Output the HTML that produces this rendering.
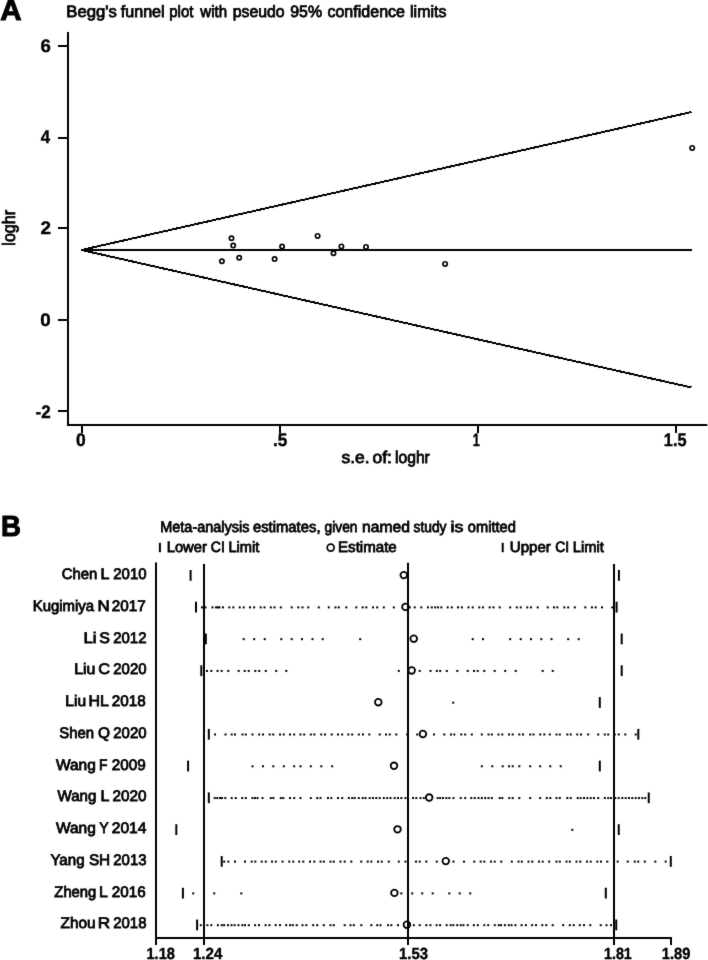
<!DOCTYPE html><html><head><meta charset="utf-8"><style>html,body{margin:0;padding:0;background:#fff;}svg{display:block;will-change:transform;}text{font-family:"Liberation Sans",sans-serif;}</style></head><body><svg width="708" height="960" viewBox="0 0 708 960"><defs><filter id="bl" x="0" y="0" width="708" height="960" filterUnits="userSpaceOnUse" color-interpolation-filters="sRGB"><feConvolveMatrix order="3" kernelMatrix="0.01 0.07 0.01 0.07 0.68 0.07 0.01 0.07 0.01" edgeMode="duplicate"/></filter></defs><g filter="url(#bl)"><rect width="708" height="960" fill="#fff"/><g stroke="#000" fill="none" stroke-linecap="butt"><line x1="68" y1="32" x2="68" y2="426" stroke-width="2"/><line x1="67" y1="425" x2="707.3" y2="425" stroke-width="2"/><line x1="58" y1="46" x2="68" y2="46" stroke-width="2"/><line x1="58" y1="138" x2="68" y2="138" stroke-width="2"/><line x1="58" y1="228" x2="68" y2="228" stroke-width="2"/><line x1="58" y1="320" x2="68" y2="320" stroke-width="2"/><line x1="58" y1="411" x2="68" y2="411" stroke-width="2"/><line x1="82" y1="425" x2="82" y2="433" stroke-width="2"/><line x1="280" y1="425" x2="280" y2="433" stroke-width="2"/><line x1="478" y1="425" x2="478" y2="433" stroke-width="2"/><line x1="676" y1="425" x2="676" y2="433" stroke-width="2"/><line x1="81.5" y1="250" x2="691.5" y2="112" stroke-width="2" shape-rendering="crispEdges"/><line x1="81.5" y1="250" x2="691.5" y2="250" stroke-width="2" shape-rendering="crispEdges"/><line x1="81.5" y1="250" x2="691.5" y2="387.5" stroke-width="2" shape-rendering="crispEdges"/><line x1="156" y1="562.4" x2="156" y2="945" stroke-width="2"/><line x1="204" y1="563.9" x2="204" y2="945" stroke-width="2"/><line x1="408" y1="562.8" x2="408" y2="945" stroke-width="2"/><line x1="614" y1="563.9" x2="614" y2="945" stroke-width="2"/><line x1="155" y1="938" x2="672" y2="938" stroke-width="2"/><line x1="671" y1="938" x2="671" y2="945" stroke-width="2"/></g><g stroke="#000" fill="none" stroke-width="1.7"><circle cx="231.5" cy="238.3" r="2.15"/><circle cx="233.2" cy="245.6" r="2.15"/><circle cx="221.9" cy="261.2" r="2.15"/><circle cx="239.2" cy="257.8" r="2.15"/><circle cx="274.6" cy="259.1" r="2.15"/><circle cx="282.1" cy="246.5" r="2.15"/><circle cx="317.6" cy="235.9" r="2.15"/><circle cx="333.5" cy="253.3" r="2.15"/><circle cx="341.4" cy="246.4" r="2.15"/><circle cx="366" cy="246.9" r="2.15"/><circle cx="445.1" cy="263.9" r="2.15"/><circle cx="692.2" cy="147.9" r="2.15"/></g><g stroke="#000" stroke-width="2"><line x1="190.6" y1="569.95" x2="190.6" y2="580.75"/><line x1="618.9" y1="569.95" x2="618.9" y2="580.75"/><line x1="196" y1="601.73" x2="196" y2="612.53"/><line x1="616.6" y1="601.73" x2="616.6" y2="612.53"/><line x1="205.8" y1="633.51" x2="205.8" y2="644.31"/><line x1="621.7" y1="633.51" x2="621.7" y2="644.31"/><line x1="201.3" y1="665.29" x2="201.3" y2="676.09"/><line x1="621.7" y1="665.29" x2="621.7" y2="676.09"/><line x1="599.8" y1="697.07" x2="599.8" y2="707.87"/><line x1="208.8" y1="728.85" x2="208.8" y2="739.65"/><line x1="638.3" y1="728.85" x2="638.3" y2="739.65"/><line x1="188.1" y1="760.63" x2="188.1" y2="771.43"/><line x1="599.8" y1="760.63" x2="599.8" y2="771.43"/><line x1="208.8" y1="792.41" x2="208.8" y2="803.21"/><line x1="648.75" y1="792.41" x2="648.75" y2="803.21"/><line x1="176.3" y1="824.19" x2="176.3" y2="834.99"/><line x1="618.75" y1="824.19" x2="618.75" y2="834.99"/><line x1="221.7" y1="855.97" x2="221.7" y2="866.77"/><line x1="670.8" y1="855.97" x2="670.8" y2="866.77"/><line x1="182.9" y1="887.75" x2="182.9" y2="898.55"/><line x1="605.8" y1="887.75" x2="605.8" y2="898.55"/><line x1="197.1" y1="919.53" x2="197.1" y2="930.33"/><line x1="616.25" y1="919.53" x2="616.25" y2="930.33"/><line x1="159.9" y1="542.8" x2="159.9" y2="552.2"/><line x1="502.7" y1="542.8" x2="502.7" y2="552.2"/></g><g stroke="#000" fill="none" stroke-width="1.8"><circle cx="403.75" cy="575.10" r="3.3"/><circle cx="405.4" cy="606.88" r="3.3"/><circle cx="413.75" cy="638.66" r="3.3"/><circle cx="411.7" cy="670.44" r="3.3"/><circle cx="378.3" cy="702.22" r="3.3"/><circle cx="422.9" cy="734.00" r="3.3"/><circle cx="394" cy="765.78" r="3.3"/><circle cx="429.2" cy="797.56" r="3.3"/><circle cx="397.5" cy="829.34" r="3.3"/><circle cx="445.8" cy="861.12" r="3.3"/><circle cx="394.4" cy="892.90" r="3.3"/><circle cx="406.9" cy="924.68" r="3.3"/><circle cx="330.7" cy="547.6" r="3.5" stroke-width="1.7"/></g><g fill="#000"><rect x="201.00" y="606.38" width="2.0" height="2.0"/><rect x="204.50" y="606.38" width="2.0" height="2.0"/><rect x="211.50" y="606.38" width="2.0" height="2.0"/><rect x="215.00" y="606.38" width="2.0" height="2.0"/><rect x="217.00" y="606.38" width="2.0" height="2.0"/><rect x="218.50" y="606.38" width="2.0" height="2.0"/><rect x="222.00" y="606.38" width="2.0" height="2.0"/><rect x="228.30" y="606.38" width="2.0" height="2.0"/><rect x="232.30" y="606.38" width="2.0" height="2.0"/><rect x="238.70" y="606.38" width="2.0" height="2.0"/><rect x="242.70" y="606.38" width="2.0" height="2.0"/><rect x="249.00" y="606.38" width="2.0" height="2.0"/><rect x="253.20" y="606.38" width="2.0" height="2.0"/><rect x="259.70" y="606.38" width="2.0" height="2.0"/><rect x="263.50" y="606.38" width="2.0" height="2.0"/><rect x="269.80" y="606.38" width="2.0" height="2.0"/><rect x="273.50" y="606.38" width="2.0" height="2.0"/><rect x="279.80" y="606.38" width="2.0" height="2.0"/><rect x="290.70" y="606.38" width="2.0" height="2.0"/><rect x="297.30" y="606.38" width="2.0" height="2.0"/><rect x="301.50" y="606.38" width="2.0" height="2.0"/><rect x="307.30" y="606.38" width="2.0" height="2.0"/><rect x="317.80" y="606.38" width="2.0" height="2.0"/><rect x="327.80" y="606.38" width="2.0" height="2.0"/><rect x="334.50" y="606.38" width="2.0" height="2.0"/><rect x="337.80" y="606.38" width="2.0" height="2.0"/><rect x="345.30" y="606.38" width="2.0" height="2.0"/><rect x="355.30" y="606.38" width="2.0" height="2.0"/><rect x="361.70" y="606.38" width="2.0" height="2.0"/><rect x="365.30" y="606.38" width="2.0" height="2.0"/><rect x="372.00" y="606.38" width="2.0" height="2.0"/><rect x="376.20" y="606.38" width="2.0" height="2.0"/><rect x="382.80" y="606.38" width="2.0" height="2.0"/><rect x="392.80" y="606.38" width="2.0" height="2.0"/><rect x="408.70" y="606.38" width="2.0" height="2.0"/><rect x="413.70" y="606.38" width="2.0" height="2.0"/><rect x="420.30" y="606.38" width="2.0" height="2.0"/><rect x="427.00" y="606.38" width="2.0" height="2.0"/><rect x="430.80" y="606.38" width="2.0" height="2.0"/><rect x="434.20" y="606.38" width="2.0" height="2.0"/><rect x="437.00" y="606.38" width="2.0" height="2.0"/><rect x="440.30" y="606.38" width="2.0" height="2.0"/><rect x="446.70" y="606.38" width="2.0" height="2.0"/><rect x="450.80" y="606.38" width="2.0" height="2.0"/><rect x="457.00" y="606.38" width="2.0" height="2.0"/><rect x="460.80" y="606.38" width="2.0" height="2.0"/><rect x="467.50" y="606.38" width="2.0" height="2.0"/><rect x="471.70" y="606.38" width="2.0" height="2.0"/><rect x="478.30" y="606.38" width="2.0" height="2.0"/><rect x="482.00" y="606.38" width="2.0" height="2.0"/><rect x="488.70" y="606.38" width="2.0" height="2.0"/><rect x="492.50" y="606.38" width="2.0" height="2.0"/><rect x="498.70" y="606.38" width="2.0" height="2.0"/><rect x="509.20" y="606.38" width="2.0" height="2.0"/><rect x="515.80" y="606.38" width="2.0" height="2.0"/><rect x="519.70" y="606.38" width="2.0" height="2.0"/><rect x="526.30" y="606.38" width="2.0" height="2.0"/><rect x="530.00" y="606.38" width="2.0" height="2.0"/><rect x="536.70" y="606.38" width="2.0" height="2.0"/><rect x="546.70" y="606.38" width="2.0" height="2.0"/><rect x="553.00" y="606.38" width="2.0" height="2.0"/><rect x="556.30" y="606.38" width="2.0" height="2.0"/><rect x="563.30" y="606.38" width="2.0" height="2.0"/><rect x="567.20" y="606.38" width="2.0" height="2.0"/><rect x="573.80" y="606.38" width="2.0" height="2.0"/><rect x="584.30" y="606.38" width="2.0" height="2.0"/><rect x="591.00" y="606.38" width="2.0" height="2.0"/><rect x="594.70" y="606.38" width="2.0" height="2.0"/><rect x="601.00" y="606.38" width="2.0" height="2.0"/><rect x="611.30" y="606.38" width="2.0" height="2.0"/><rect x="242.70" y="638.16" width="2.0" height="2.0"/><rect x="253.20" y="638.16" width="2.0" height="2.0"/><rect x="263.70" y="638.16" width="2.0" height="2.0"/><rect x="280.30" y="638.16" width="2.0" height="2.0"/><rect x="290.70" y="638.16" width="2.0" height="2.0"/><rect x="301.00" y="638.16" width="2.0" height="2.0"/><rect x="311.50" y="638.16" width="2.0" height="2.0"/><rect x="321.70" y="638.16" width="2.0" height="2.0"/><rect x="359.20" y="638.16" width="2.0" height="2.0"/><rect x="471.70" y="638.16" width="2.0" height="2.0"/><rect x="482.00" y="638.16" width="2.0" height="2.0"/><rect x="509.20" y="638.16" width="2.0" height="2.0"/><rect x="519.70" y="638.16" width="2.0" height="2.0"/><rect x="530.00" y="638.16" width="2.0" height="2.0"/><rect x="540.30" y="638.16" width="2.0" height="2.0"/><rect x="550.50" y="638.16" width="2.0" height="2.0"/><rect x="567.20" y="638.16" width="2.0" height="2.0"/><rect x="577.70" y="638.16" width="2.0" height="2.0"/><rect x="206.00" y="669.94" width="2.0" height="2.0"/><rect x="210.30" y="669.94" width="2.0" height="2.0"/><rect x="216.50" y="669.94" width="2.0" height="2.0"/><rect x="220.70" y="669.94" width="2.0" height="2.0"/><rect x="227.30" y="669.94" width="2.0" height="2.0"/><rect x="237.70" y="669.94" width="2.0" height="2.0"/><rect x="243.70" y="669.94" width="2.0" height="2.0"/><rect x="247.70" y="669.94" width="2.0" height="2.0"/><rect x="254.30" y="669.94" width="2.0" height="2.0"/><rect x="258.20" y="669.94" width="2.0" height="2.0"/><rect x="264.80" y="669.94" width="2.0" height="2.0"/><rect x="275.20" y="669.94" width="2.0" height="2.0"/><rect x="285.30" y="669.94" width="2.0" height="2.0"/><rect x="397.80" y="669.94" width="2.0" height="2.0"/><rect x="418.70" y="669.94" width="2.0" height="2.0"/><rect x="429.50" y="669.94" width="2.0" height="2.0"/><rect x="435.80" y="669.94" width="2.0" height="2.0"/><rect x="439.20" y="669.94" width="2.0" height="2.0"/><rect x="445.80" y="669.94" width="2.0" height="2.0"/><rect x="456.30" y="669.94" width="2.0" height="2.0"/><rect x="466.70" y="669.94" width="2.0" height="2.0"/><rect x="473.00" y="669.94" width="2.0" height="2.0"/><rect x="476.70" y="669.94" width="2.0" height="2.0"/><rect x="483.30" y="669.94" width="2.0" height="2.0"/><rect x="493.70" y="669.94" width="2.0" height="2.0"/><rect x="504.20" y="669.94" width="2.0" height="2.0"/><rect x="514.70" y="669.94" width="2.0" height="2.0"/><rect x="541.70" y="669.94" width="2.0" height="2.0"/><rect x="551.70" y="669.94" width="2.0" height="2.0"/><rect x="452.20" y="701.72" width="2.0" height="2.0"/><rect x="214.00" y="733.50" width="2.0" height="2.0"/><rect x="224.50" y="733.50" width="2.0" height="2.0"/><rect x="230.70" y="733.50" width="2.0" height="2.0"/><rect x="234.00" y="733.50" width="2.0" height="2.0"/><rect x="241.50" y="733.50" width="2.0" height="2.0"/><rect x="244.80" y="733.50" width="2.0" height="2.0"/><rect x="251.50" y="733.50" width="2.0" height="2.0"/><rect x="258.20" y="733.50" width="2.0" height="2.0"/><rect x="262.00" y="733.50" width="2.0" height="2.0"/><rect x="268.70" y="733.50" width="2.0" height="2.0"/><rect x="272.30" y="733.50" width="2.0" height="2.0"/><rect x="279.00" y="733.50" width="2.0" height="2.0"/><rect x="282.70" y="733.50" width="2.0" height="2.0"/><rect x="289.00" y="733.50" width="2.0" height="2.0"/><rect x="293.20" y="733.50" width="2.0" height="2.0"/><rect x="299.50" y="733.50" width="2.0" height="2.0"/><rect x="303.20" y="733.50" width="2.0" height="2.0"/><rect x="309.80" y="733.50" width="2.0" height="2.0"/><rect x="313.30" y="733.50" width="2.0" height="2.0"/><rect x="320.30" y="733.50" width="2.0" height="2.0"/><rect x="324.00" y="733.50" width="2.0" height="2.0"/><rect x="330.70" y="733.50" width="2.0" height="2.0"/><rect x="337.00" y="733.50" width="2.0" height="2.0"/><rect x="341.20" y="733.50" width="2.0" height="2.0"/><rect x="347.30" y="733.50" width="2.0" height="2.0"/><rect x="351.20" y="733.50" width="2.0" height="2.0"/><rect x="357.80" y="733.50" width="2.0" height="2.0"/><rect x="362.00" y="733.50" width="2.0" height="2.0"/><rect x="368.30" y="733.50" width="2.0" height="2.0"/><rect x="378.70" y="733.50" width="2.0" height="2.0"/><rect x="385.00" y="733.50" width="2.0" height="2.0"/><rect x="388.70" y="733.50" width="2.0" height="2.0"/><rect x="395.30" y="733.50" width="2.0" height="2.0"/><rect x="406.20" y="733.50" width="2.0" height="2.0"/><rect x="416.20" y="733.50" width="2.0" height="2.0"/><rect x="433.00" y="733.50" width="2.0" height="2.0"/><rect x="443.30" y="733.50" width="2.0" height="2.0"/><rect x="450.00" y="733.50" width="2.0" height="2.0"/><rect x="453.30" y="733.50" width="2.0" height="2.0"/><rect x="460.30" y="733.50" width="2.0" height="2.0"/><rect x="464.20" y="733.50" width="2.0" height="2.0"/><rect x="470.80" y="733.50" width="2.0" height="2.0"/><rect x="480.80" y="733.50" width="2.0" height="2.0"/><rect x="487.50" y="733.50" width="2.0" height="2.0"/><rect x="490.80" y="733.50" width="2.0" height="2.0"/><rect x="497.50" y="733.50" width="2.0" height="2.0"/><rect x="501.30" y="733.50" width="2.0" height="2.0"/><rect x="508.00" y="733.50" width="2.0" height="2.0"/><rect x="511.70" y="733.50" width="2.0" height="2.0"/><rect x="518.30" y="733.50" width="2.0" height="2.0"/><rect x="522.00" y="733.50" width="2.0" height="2.0"/><rect x="529.20" y="733.50" width="2.0" height="2.0"/><rect x="532.50" y="733.50" width="2.0" height="2.0"/><rect x="539.20" y="733.50" width="2.0" height="2.0"/><rect x="543.30" y="733.50" width="2.0" height="2.0"/><rect x="548.80" y="733.50" width="2.0" height="2.0"/><rect x="555.50" y="733.50" width="2.0" height="2.0"/><rect x="558.80" y="733.50" width="2.0" height="2.0"/><rect x="566.30" y="733.50" width="2.0" height="2.0"/><rect x="569.70" y="733.50" width="2.0" height="2.0"/><rect x="576.30" y="733.50" width="2.0" height="2.0"/><rect x="580.00" y="733.50" width="2.0" height="2.0"/><rect x="587.20" y="733.50" width="2.0" height="2.0"/><rect x="597.20" y="733.50" width="2.0" height="2.0"/><rect x="603.80" y="733.50" width="2.0" height="2.0"/><rect x="607.20" y="733.50" width="2.0" height="2.0"/><rect x="613.80" y="733.50" width="2.0" height="2.0"/><rect x="617.70" y="733.50" width="2.0" height="2.0"/><rect x="624.30" y="733.50" width="2.0" height="2.0"/><rect x="634.70" y="733.50" width="2.0" height="2.0"/><rect x="251.50" y="765.28" width="2.0" height="2.0"/><rect x="262.00" y="765.28" width="2.0" height="2.0"/><rect x="272.30" y="765.28" width="2.0" height="2.0"/><rect x="282.80" y="765.28" width="2.0" height="2.0"/><rect x="293.20" y="765.28" width="2.0" height="2.0"/><rect x="299.50" y="765.28" width="2.0" height="2.0"/><rect x="309.80" y="765.28" width="2.0" height="2.0"/><rect x="320.30" y="765.28" width="2.0" height="2.0"/><rect x="331.20" y="765.28" width="2.0" height="2.0"/><rect x="480.80" y="765.28" width="2.0" height="2.0"/><rect x="491.30" y="765.28" width="2.0" height="2.0"/><rect x="501.70" y="765.28" width="2.0" height="2.0"/><rect x="508.00" y="765.28" width="2.0" height="2.0"/><rect x="511.70" y="765.28" width="2.0" height="2.0"/><rect x="518.30" y="765.28" width="2.0" height="2.0"/><rect x="529.20" y="765.28" width="2.0" height="2.0"/><rect x="539.20" y="765.28" width="2.0" height="2.0"/><rect x="549.30" y="765.28" width="2.0" height="2.0"/><rect x="559.70" y="765.28" width="2.0" height="2.0"/><rect x="213.70" y="797.06" width="2.0" height="2.0"/><rect x="216.20" y="797.06" width="2.0" height="2.0"/><rect x="219.00" y="797.06" width="2.0" height="2.0"/><rect x="221.00" y="797.06" width="2.0" height="2.0"/><rect x="224.30" y="797.06" width="2.0" height="2.0"/><rect x="230.70" y="797.06" width="2.0" height="2.0"/><rect x="234.80" y="797.06" width="2.0" height="2.0"/><rect x="241.20" y="797.06" width="2.0" height="2.0"/><rect x="244.80" y="797.06" width="2.0" height="2.0"/><rect x="251.50" y="797.06" width="2.0" height="2.0"/><rect x="254.00" y="797.06" width="2.0" height="2.0"/><rect x="256.50" y="797.06" width="2.0" height="2.0"/><rect x="261.50" y="797.06" width="2.0" height="2.0"/><rect x="269.80" y="797.06" width="2.0" height="2.0"/><rect x="272.30" y="797.06" width="2.0" height="2.0"/><rect x="279.80" y="797.06" width="2.0" height="2.0"/><rect x="282.30" y="797.06" width="2.0" height="2.0"/><rect x="289.00" y="797.06" width="2.0" height="2.0"/><rect x="293.20" y="797.06" width="2.0" height="2.0"/><rect x="299.50" y="797.06" width="2.0" height="2.0"/><rect x="309.80" y="797.06" width="2.0" height="2.0"/><rect x="316.20" y="797.06" width="2.0" height="2.0"/><rect x="319.50" y="797.06" width="2.0" height="2.0"/><rect x="327.00" y="797.06" width="2.0" height="2.0"/><rect x="330.30" y="797.06" width="2.0" height="2.0"/><rect x="337.00" y="797.06" width="2.0" height="2.0"/><rect x="341.20" y="797.06" width="2.0" height="2.0"/><rect x="347.80" y="797.06" width="2.0" height="2.0"/><rect x="351.20" y="797.06" width="2.0" height="2.0"/><rect x="353.70" y="797.06" width="2.0" height="2.0"/><rect x="357.80" y="797.06" width="2.0" height="2.0"/><rect x="361.70" y="797.06" width="2.0" height="2.0"/><rect x="364.50" y="797.06" width="2.0" height="2.0"/><rect x="368.70" y="797.06" width="2.0" height="2.0"/><rect x="372.00" y="797.06" width="2.0" height="2.0"/><rect x="375.30" y="797.06" width="2.0" height="2.0"/><rect x="378.70" y="797.06" width="2.0" height="2.0"/><rect x="382.80" y="797.06" width="2.0" height="2.0"/><rect x="386.20" y="797.06" width="2.0" height="2.0"/><rect x="389.50" y="797.06" width="2.0" height="2.0"/><rect x="393.70" y="797.06" width="2.0" height="2.0"/><rect x="397.00" y="797.06" width="2.0" height="2.0"/><rect x="400.30" y="797.06" width="2.0" height="2.0"/><rect x="404.50" y="797.06" width="2.0" height="2.0"/><rect x="412.00" y="797.06" width="2.0" height="2.0"/><rect x="415.30" y="797.06" width="2.0" height="2.0"/><rect x="419.50" y="797.06" width="2.0" height="2.0"/><rect x="422.80" y="797.06" width="2.0" height="2.0"/><rect x="436.70" y="797.06" width="2.0" height="2.0"/><rect x="439.20" y="797.06" width="2.0" height="2.0"/><rect x="442.00" y="797.06" width="2.0" height="2.0"/><rect x="445.30" y="797.06" width="2.0" height="2.0"/><rect x="448.30" y="797.06" width="2.0" height="2.0"/><rect x="452.50" y="797.06" width="2.0" height="2.0"/><rect x="459.70" y="797.06" width="2.0" height="2.0"/><rect x="464.20" y="797.06" width="2.0" height="2.0"/><rect x="470.30" y="797.06" width="2.0" height="2.0"/><rect x="473.70" y="797.06" width="2.0" height="2.0"/><rect x="477.50" y="797.06" width="2.0" height="2.0"/><rect x="480.80" y="797.06" width="2.0" height="2.0"/><rect x="484.20" y="797.06" width="2.0" height="2.0"/><rect x="487.50" y="797.06" width="2.0" height="2.0"/><rect x="490.80" y="797.06" width="2.0" height="2.0"/><rect x="498.70" y="797.06" width="2.0" height="2.0"/><rect x="501.30" y="797.06" width="2.0" height="2.0"/><rect x="508.30" y="797.06" width="2.0" height="2.0"/><rect x="511.70" y="797.06" width="2.0" height="2.0"/><rect x="518.30" y="797.06" width="2.0" height="2.0"/><rect x="529.20" y="797.06" width="2.0" height="2.0"/><rect x="539.20" y="797.06" width="2.0" height="2.0"/><rect x="545.80" y="797.06" width="2.0" height="2.0"/><rect x="549.30" y="797.06" width="2.0" height="2.0"/><rect x="555.50" y="797.06" width="2.0" height="2.0"/><rect x="558.80" y="797.06" width="2.0" height="2.0"/><rect x="566.30" y="797.06" width="2.0" height="2.0"/><rect x="569.70" y="797.06" width="2.0" height="2.0"/><rect x="576.70" y="797.06" width="2.0" height="2.0"/><rect x="579.70" y="797.06" width="2.0" height="2.0"/><rect x="583.00" y="797.06" width="2.0" height="2.0"/><rect x="586.30" y="797.06" width="2.0" height="2.0"/><rect x="589.70" y="797.06" width="2.0" height="2.0"/><rect x="593.00" y="797.06" width="2.0" height="2.0"/><rect x="597.20" y="797.06" width="2.0" height="2.0"/><rect x="603.80" y="797.06" width="2.0" height="2.0"/><rect x="607.20" y="797.06" width="2.0" height="2.0"/><rect x="610.00" y="797.06" width="2.0" height="2.0"/><rect x="614.30" y="797.06" width="2.0" height="2.0"/><rect x="617.70" y="797.06" width="2.0" height="2.0"/><rect x="621.30" y="797.06" width="2.0" height="2.0"/><rect x="624.70" y="797.06" width="2.0" height="2.0"/><rect x="628.00" y="797.06" width="2.0" height="2.0"/><rect x="631.30" y="797.06" width="2.0" height="2.0"/><rect x="634.70" y="797.06" width="2.0" height="2.0"/><rect x="638.00" y="797.06" width="2.0" height="2.0"/><rect x="641.30" y="797.06" width="2.0" height="2.0"/><rect x="644.30" y="797.06" width="2.0" height="2.0"/><rect x="571.30" y="828.84" width="2.0" height="2.0"/><rect x="223.20" y="860.62" width="2.0" height="2.0"/><rect x="227.30" y="860.62" width="2.0" height="2.0"/><rect x="234.00" y="860.62" width="2.0" height="2.0"/><rect x="244.00" y="860.62" width="2.0" height="2.0"/><rect x="250.70" y="860.62" width="2.0" height="2.0"/><rect x="254.30" y="860.62" width="2.0" height="2.0"/><rect x="260.70" y="860.62" width="2.0" height="2.0"/><rect x="264.80" y="860.62" width="2.0" height="2.0"/><rect x="271.00" y="860.62" width="2.0" height="2.0"/><rect x="274.80" y="860.62" width="2.0" height="2.0"/><rect x="281.50" y="860.62" width="2.0" height="2.0"/><rect x="288.20" y="860.62" width="2.0" height="2.0"/><rect x="292.30" y="860.62" width="2.0" height="2.0"/><rect x="298.20" y="860.62" width="2.0" height="2.0"/><rect x="302.30" y="860.62" width="2.0" height="2.0"/><rect x="309.00" y="860.62" width="2.0" height="2.0"/><rect x="313.30" y="860.62" width="2.0" height="2.0"/><rect x="319.50" y="860.62" width="2.0" height="2.0"/><rect x="322.80" y="860.62" width="2.0" height="2.0"/><rect x="329.50" y="860.62" width="2.0" height="2.0"/><rect x="332.80" y="860.62" width="2.0" height="2.0"/><rect x="339.50" y="860.62" width="2.0" height="2.0"/><rect x="343.70" y="860.62" width="2.0" height="2.0"/><rect x="350.30" y="860.62" width="2.0" height="2.0"/><rect x="360.30" y="860.62" width="2.0" height="2.0"/><rect x="366.70" y="860.62" width="2.0" height="2.0"/><rect x="370.30" y="860.62" width="2.0" height="2.0"/><rect x="377.00" y="860.62" width="2.0" height="2.0"/><rect x="380.70" y="860.62" width="2.0" height="2.0"/><rect x="387.80" y="860.62" width="2.0" height="2.0"/><rect x="397.80" y="860.62" width="2.0" height="2.0"/><rect x="404.50" y="860.62" width="2.0" height="2.0"/><rect x="415.00" y="860.62" width="2.0" height="2.0"/><rect x="418.70" y="860.62" width="2.0" height="2.0"/><rect x="425.30" y="860.62" width="2.0" height="2.0"/><rect x="435.80" y="860.62" width="2.0" height="2.0"/><rect x="452.50" y="860.62" width="2.0" height="2.0"/><rect x="463.00" y="860.62" width="2.0" height="2.0"/><rect x="473.30" y="860.62" width="2.0" height="2.0"/><rect x="479.70" y="860.62" width="2.0" height="2.0"/><rect x="483.30" y="860.62" width="2.0" height="2.0"/><rect x="490.00" y="860.62" width="2.0" height="2.0"/><rect x="493.70" y="860.62" width="2.0" height="2.0"/><rect x="500.30" y="860.62" width="2.0" height="2.0"/><rect x="510.80" y="860.62" width="2.0" height="2.0"/><rect x="517.50" y="860.62" width="2.0" height="2.0"/><rect x="520.80" y="860.62" width="2.0" height="2.0"/><rect x="527.50" y="860.62" width="2.0" height="2.0"/><rect x="531.30" y="860.62" width="2.0" height="2.0"/><rect x="538.00" y="860.62" width="2.0" height="2.0"/><rect x="541.70" y="860.62" width="2.0" height="2.0"/><rect x="548.20" y="860.62" width="2.0" height="2.0"/><rect x="555.50" y="860.62" width="2.0" height="2.0"/><rect x="558.80" y="860.62" width="2.0" height="2.0"/><rect x="565.50" y="860.62" width="2.0" height="2.0"/><rect x="568.80" y="860.62" width="2.0" height="2.0"/><rect x="575.50" y="860.62" width="2.0" height="2.0"/><rect x="579.30" y="860.62" width="2.0" height="2.0"/><rect x="586.00" y="860.62" width="2.0" height="2.0"/><rect x="589.70" y="860.62" width="2.0" height="2.0"/><rect x="596.30" y="860.62" width="2.0" height="2.0"/><rect x="600.00" y="860.62" width="2.0" height="2.0"/><rect x="606.30" y="860.62" width="2.0" height="2.0"/><rect x="616.70" y="860.62" width="2.0" height="2.0"/><rect x="626.70" y="860.62" width="2.0" height="2.0"/><rect x="633.80" y="860.62" width="2.0" height="2.0"/><rect x="637.20" y="860.62" width="2.0" height="2.0"/><rect x="643.80" y="860.62" width="2.0" height="2.0"/><rect x="654.30" y="860.62" width="2.0" height="2.0"/><rect x="664.70" y="860.62" width="2.0" height="2.0"/><rect x="192.20" y="892.40" width="2.0" height="2.0"/><rect x="213.20" y="892.40" width="2.0" height="2.0"/><rect x="240.30" y="892.40" width="2.0" height="2.0"/><rect x="400.30" y="892.40" width="2.0" height="2.0"/><rect x="411.20" y="892.40" width="2.0" height="2.0"/><rect x="421.20" y="892.40" width="2.0" height="2.0"/><rect x="431.70" y="892.40" width="2.0" height="2.0"/><rect x="448.30" y="892.40" width="2.0" height="2.0"/><rect x="458.70" y="892.40" width="2.0" height="2.0"/><rect x="469.20" y="892.40" width="2.0" height="2.0"/><rect x="199.80" y="924.18" width="2.0" height="2.0"/><rect x="206.40" y="924.18" width="2.0" height="2.0"/><rect x="210.30" y="924.18" width="2.0" height="2.0"/><rect x="216.90" y="924.18" width="2.0" height="2.0"/><rect x="220.80" y="924.18" width="2.0" height="2.0"/><rect x="223.10" y="924.18" width="2.0" height="2.0"/><rect x="227.00" y="924.18" width="2.0" height="2.0"/><rect x="230.50" y="924.18" width="2.0" height="2.0"/><rect x="233.60" y="924.18" width="2.0" height="2.0"/><rect x="237.50" y="924.18" width="2.0" height="2.0"/><rect x="241.40" y="924.18" width="2.0" height="2.0"/><rect x="244.00" y="924.18" width="2.0" height="2.0"/><rect x="247.80" y="924.18" width="2.0" height="2.0"/><rect x="254.10" y="924.18" width="2.0" height="2.0"/><rect x="258.00" y="924.18" width="2.0" height="2.0"/><rect x="264.60" y="924.18" width="2.0" height="2.0"/><rect x="268.50" y="924.18" width="2.0" height="2.0"/><rect x="274.70" y="924.18" width="2.0" height="2.0"/><rect x="279.00" y="924.18" width="2.0" height="2.0"/><rect x="285.20" y="924.18" width="2.0" height="2.0"/><rect x="289.10" y="924.18" width="2.0" height="2.0"/><rect x="291.80" y="924.18" width="2.0" height="2.0"/><rect x="295.70" y="924.18" width="2.0" height="2.0"/><rect x="301.50" y="924.18" width="2.0" height="2.0"/><rect x="305.30" y="924.18" width="2.0" height="2.0"/><rect x="312.20" y="924.18" width="2.0" height="2.0"/><rect x="316.20" y="924.18" width="2.0" height="2.0"/><rect x="322.80" y="924.18" width="2.0" height="2.0"/><rect x="329.50" y="924.18" width="2.0" height="2.0"/><rect x="332.80" y="924.18" width="2.0" height="2.0"/><rect x="343.70" y="924.18" width="2.0" height="2.0"/><rect x="349.50" y="924.18" width="2.0" height="2.0"/><rect x="352.80" y="924.18" width="2.0" height="2.0"/><rect x="360.30" y="924.18" width="2.0" height="2.0"/><rect x="370.30" y="924.18" width="2.0" height="2.0"/><rect x="376.20" y="924.18" width="2.0" height="2.0"/><rect x="379.50" y="924.18" width="2.0" height="2.0"/><rect x="387.00" y="924.18" width="2.0" height="2.0"/><rect x="390.30" y="924.18" width="2.0" height="2.0"/><rect x="397.00" y="924.18" width="2.0" height="2.0"/><rect x="412.80" y="924.18" width="2.0" height="2.0"/><rect x="418.70" y="924.18" width="2.0" height="2.0"/><rect x="425.30" y="924.18" width="2.0" height="2.0"/><rect x="429.40" y="924.18" width="2.0" height="2.0"/><rect x="435.60" y="924.18" width="2.0" height="2.0"/><rect x="439.10" y="924.18" width="2.0" height="2.0"/><rect x="445.70" y="924.18" width="2.0" height="2.0"/><rect x="449.60" y="924.18" width="2.0" height="2.0"/><rect x="452.30" y="924.18" width="2.0" height="2.0"/><rect x="456.20" y="924.18" width="2.0" height="2.0"/><rect x="459.70" y="924.18" width="2.0" height="2.0"/><rect x="462.40" y="924.18" width="2.0" height="2.0"/><rect x="466.70" y="924.18" width="2.0" height="2.0"/><rect x="472.90" y="924.18" width="2.0" height="2.0"/><rect x="476.80" y="924.18" width="2.0" height="2.0"/><rect x="483.30" y="924.18" width="2.0" height="2.0"/><rect x="487.20" y="924.18" width="2.0" height="2.0"/><rect x="493.80" y="924.18" width="2.0" height="2.0"/><rect x="497.70" y="924.18" width="2.0" height="2.0"/><rect x="500.00" y="924.18" width="2.0" height="2.0"/><rect x="503.90" y="924.18" width="2.0" height="2.0"/><rect x="507.80" y="924.18" width="2.0" height="2.0"/><rect x="510.50" y="924.18" width="2.0" height="2.0"/><rect x="514.40" y="924.18" width="2.0" height="2.0"/><rect x="520.60" y="924.18" width="2.0" height="2.0"/><rect x="524.90" y="924.18" width="2.0" height="2.0"/><rect x="531.10" y="924.18" width="2.0" height="2.0"/><rect x="535.00" y="924.18" width="2.0" height="2.0"/><rect x="541.30" y="924.18" width="2.0" height="2.0"/><rect x="545.30" y="924.18" width="2.0" height="2.0"/><rect x="551.70" y="924.18" width="2.0" height="2.0"/><rect x="562.20" y="924.18" width="2.0" height="2.0"/><rect x="568.80" y="924.18" width="2.0" height="2.0"/><rect x="572.70" y="924.18" width="2.0" height="2.0"/><rect x="578.80" y="924.18" width="2.0" height="2.0"/><rect x="583.00" y="924.18" width="2.0" height="2.0"/><rect x="589.30" y="924.18" width="2.0" height="2.0"/><rect x="599.70" y="924.18" width="2.0" height="2.0"/><rect x="605.50" y="924.18" width="2.0" height="2.0"/><rect x="610.00" y="924.18" width="2.0" height="2.0"/></g><g fill="#000" font-family="Liberation Sans, sans-serif" text-rendering="geometricPrecision"><text x="0.18" y="20.20" font-size="29.20" font-weight="bold" textLength="21.36" lengthAdjust="spacingAndGlyphs" stroke="#000" stroke-width="1.0">A</text><text x="1.05" y="535.90" font-size="29.20" font-weight="bold" textLength="19.98" lengthAdjust="spacingAndGlyphs" stroke="#000" stroke-width="1.0">B</text><text x="66.27" y="17.40" font-size="16.40" textLength="50.52" lengthAdjust="spacingAndGlyphs" stroke="#000" stroke-width="0.8">Begg's</text><text x="120.71" y="17.40" font-size="16.40" textLength="43.98" lengthAdjust="spacingAndGlyphs" stroke="#000" stroke-width="0.8">funnel</text><text x="169.31" y="17.40" font-size="16.40" textLength="24.15" lengthAdjust="spacingAndGlyphs" stroke="#000" stroke-width="0.8">plot</text><text x="200.26" y="17.40" font-size="16.40" textLength="26.80" lengthAdjust="spacingAndGlyphs" stroke="#000" stroke-width="0.8">with</text><text x="232.75" y="17.40" font-size="16.40" textLength="51.86" lengthAdjust="spacingAndGlyphs" stroke="#000" stroke-width="0.8">pseudo</text><text x="290.31" y="17.40" font-size="16.40" textLength="31.73" lengthAdjust="spacingAndGlyphs" stroke="#000" stroke-width="0.8">95%</text><text x="327.45" y="17.40" font-size="16.40" textLength="77.54" lengthAdjust="spacingAndGlyphs" stroke="#000" stroke-width="0.8">confidence</text><text x="410.05" y="17.40" font-size="16.40" textLength="36.33" lengthAdjust="spacingAndGlyphs" stroke="#000" stroke-width="0.8">limits</text><text x="40.43" y="52.15" font-size="18.10" font-weight="bold" textLength="10.38" lengthAdjust="spacingAndGlyphs" stroke="#000" stroke-width="0.4">6</text><text x="40.67" y="142.75" font-size="18.10" font-weight="bold" textLength="9.36" lengthAdjust="spacingAndGlyphs" stroke="#000" stroke-width="0.4">4</text><text x="40.48" y="234.00" font-size="18.10" font-weight="bold" textLength="10.52" lengthAdjust="spacingAndGlyphs" stroke="#000" stroke-width="0.4">2</text><text x="40.32" y="325.70" font-size="18.10" font-weight="bold" textLength="10.45" lengthAdjust="spacingAndGlyphs" stroke="#000" stroke-width="0.4">0</text><text x="35.50" y="417.70" font-size="18.10" font-weight="bold" textLength="15.11" lengthAdjust="spacingAndGlyphs" stroke="#000" stroke-width="0.4">-2</text><text x="75.90" y="446.30" font-size="18.10" font-weight="bold" textLength="9.70" lengthAdjust="spacingAndGlyphs" stroke="#000" stroke-width="0.4">0</text><text x="273.05" y="445.60" font-size="18.10" font-weight="bold" textLength="14.28" lengthAdjust="spacingAndGlyphs" stroke="#000" stroke-width="0.4">.5</text><text x="472.79" y="446.30" font-size="18.10" font-weight="bold" textLength="7.05" lengthAdjust="spacingAndGlyphs" stroke="#000" stroke-width="0.4">1</text><text x="663.87" y="445.80" font-size="18.10" font-weight="bold" textLength="22.70" lengthAdjust="spacingAndGlyphs" stroke="#000" stroke-width="0.4">1.5</text><text x="341.51" y="462.80" font-size="17.00" textLength="28.14" lengthAdjust="spacingAndGlyphs" stroke="#000" stroke-width="0.8">s.e.</text><text x="372.42" y="462.80" font-size="17.00" textLength="19.45" lengthAdjust="spacingAndGlyphs" stroke="#000" stroke-width="0.8">of:</text><text x="395.01" y="462.80" font-size="17.00" textLength="34.84" lengthAdjust="spacingAndGlyphs" stroke="#000" stroke-width="0.8">loghr</text><text x="14.80" y="245.65" font-size="18.00" textLength="35.76" lengthAdjust="spacingAndGlyphs" transform="rotate(-90 14.80 245.65)" stroke="#000" stroke-width="0.8">loghr</text><text x="160.20" y="532.20" font-size="15.30" textLength="89.34" lengthAdjust="spacingAndGlyphs" stroke="#000" stroke-width="0.8">Meta-analysis</text><text x="252.98" y="532.20" font-size="15.30" textLength="67.54" lengthAdjust="spacingAndGlyphs" stroke="#000" stroke-width="0.8">estimates,</text><text x="324.53" y="532.20" font-size="15.30" textLength="32.94" lengthAdjust="spacingAndGlyphs" stroke="#000" stroke-width="0.8">given</text><text x="362.03" y="532.20" font-size="15.30" textLength="47.98" lengthAdjust="spacingAndGlyphs" stroke="#000" stroke-width="0.8">named</text><text x="413.50" y="532.20" font-size="15.30" textLength="33.00" lengthAdjust="spacingAndGlyphs" stroke="#000" stroke-width="0.8">study</text><text x="450.54" y="532.20" font-size="15.30" textLength="12.93" lengthAdjust="spacingAndGlyphs" stroke="#000" stroke-width="0.8">is</text><text x="467.81" y="532.20" font-size="15.30" textLength="48.04" lengthAdjust="spacingAndGlyphs" stroke="#000" stroke-width="0.8">omitted</text><text x="166.76" y="551.90" font-size="15.00" textLength="40.10" lengthAdjust="spacingAndGlyphs" stroke="#000" stroke-width="0.8">Lower</text><text x="210.75" y="551.90" font-size="15.00" textLength="14.04" lengthAdjust="spacingAndGlyphs" stroke="#000" stroke-width="0.8">CI</text><text x="228.40" y="551.90" font-size="15.00" textLength="30.95" lengthAdjust="spacingAndGlyphs" stroke="#000" stroke-width="0.8">Limit</text><text x="338.04" y="551.90" font-size="15.00" textLength="58.72" lengthAdjust="spacingAndGlyphs" stroke="#000" stroke-width="0.8">Estimate</text><text x="509.87" y="551.90" font-size="15.00" textLength="41.00" lengthAdjust="spacingAndGlyphs" stroke="#000" stroke-width="0.8">Upper</text><text x="555.35" y="551.90" font-size="15.00" textLength="13.87" lengthAdjust="spacingAndGlyphs" stroke="#000" stroke-width="0.8">CI</text><text x="572.77" y="551.90" font-size="15.00" textLength="31.00" lengthAdjust="spacingAndGlyphs" stroke="#000" stroke-width="0.8">Limit</text><text x="61.74" y="579.20" font-size="15.30" textLength="35.65" lengthAdjust="spacingAndGlyphs" stroke="#000" stroke-width="0.8">Chen</text><text x="100.48" y="579.20" font-size="15.30" textLength="8.86" lengthAdjust="spacingAndGlyphs" stroke="#000" stroke-width="0.8">L</text><text x="113.26" y="579.20" font-size="15.30" textLength="33.29" lengthAdjust="spacingAndGlyphs" stroke="#000" stroke-width="0.8">2010</text><text x="32.68" y="610.95" font-size="15.30" textLength="61.47" lengthAdjust="spacingAndGlyphs" stroke="#000" stroke-width="0.8">Kugimiya</text><text x="97.42" y="610.95" font-size="15.30" textLength="12.20" lengthAdjust="spacingAndGlyphs" stroke="#000" stroke-width="0.8">N</text><text x="111.79" y="610.95" font-size="15.30" textLength="33.94" lengthAdjust="spacingAndGlyphs" stroke="#000" stroke-width="0.8">2017</text><text x="83.43" y="642.70" font-size="15.30" textLength="13.02" lengthAdjust="spacingAndGlyphs" stroke="#000" stroke-width="0.8">Li</text><text x="99.36" y="642.70" font-size="15.30" textLength="10.64" lengthAdjust="spacingAndGlyphs" stroke="#000" stroke-width="0.8">S</text><text x="113.24" y="642.70" font-size="15.30" textLength="33.26" lengthAdjust="spacingAndGlyphs" stroke="#000" stroke-width="0.8">2012</text><text x="74.19" y="674.45" font-size="15.30" textLength="21.19" lengthAdjust="spacingAndGlyphs" stroke="#000" stroke-width="0.8">Liu</text><text x="98.18" y="674.45" font-size="15.30" textLength="11.82" lengthAdjust="spacingAndGlyphs" stroke="#000" stroke-width="0.8">C</text><text x="113.26" y="674.45" font-size="15.30" textLength="33.29" lengthAdjust="spacingAndGlyphs" stroke="#000" stroke-width="0.8">2020</text><text x="65.39" y="706.20" font-size="15.30" textLength="20.77" lengthAdjust="spacingAndGlyphs" stroke="#000" stroke-width="0.8">Liu</text><text x="88.54" y="706.20" font-size="15.30" textLength="20.32" lengthAdjust="spacingAndGlyphs" stroke="#000" stroke-width="0.8">HL</text><text x="111.79" y="706.20" font-size="15.30" textLength="33.94" lengthAdjust="spacingAndGlyphs" stroke="#000" stroke-width="0.8">2018</text><text x="59.25" y="737.95" font-size="15.30" textLength="34.79" lengthAdjust="spacingAndGlyphs" stroke="#000" stroke-width="0.8">Shen</text><text x="98.01" y="737.95" font-size="15.30" textLength="12.00" lengthAdjust="spacingAndGlyphs" stroke="#000" stroke-width="0.8">Q</text><text x="113.26" y="737.95" font-size="15.30" textLength="33.29" lengthAdjust="spacingAndGlyphs" stroke="#000" stroke-width="0.8">2020</text><text x="55.98" y="769.70" font-size="15.30" textLength="39.87" lengthAdjust="spacingAndGlyphs" stroke="#000" stroke-width="0.8">Wang</text><text x="99.02" y="769.70" font-size="15.30" textLength="8.44" lengthAdjust="spacingAndGlyphs" stroke="#000" stroke-width="0.8">F</text><text x="111.79" y="769.70" font-size="15.30" textLength="33.95" lengthAdjust="spacingAndGlyphs" stroke="#000" stroke-width="0.8">2009</text><text x="57.53" y="801.45" font-size="15.30" textLength="38.79" lengthAdjust="spacingAndGlyphs" stroke="#000" stroke-width="0.8">Wang</text><text x="100.48" y="801.45" font-size="15.30" textLength="8.86" lengthAdjust="spacingAndGlyphs" stroke="#000" stroke-width="0.8">L</text><text x="112.44" y="801.45" font-size="15.30" textLength="34.07" lengthAdjust="spacingAndGlyphs" stroke="#000" stroke-width="0.8">2020</text><text x="55.98" y="833.20" font-size="15.30" textLength="39.87" lengthAdjust="spacingAndGlyphs" stroke="#000" stroke-width="0.8">Wang</text><text x="99.30" y="833.20" font-size="15.30" textLength="9.40" lengthAdjust="spacingAndGlyphs" stroke="#000" stroke-width="0.8">Y</text><text x="111.78" y="833.20" font-size="15.30" textLength="34.67" lengthAdjust="spacingAndGlyphs" stroke="#000" stroke-width="0.8">2014</text><text x="50.40" y="864.95" font-size="15.30" textLength="34.15" lengthAdjust="spacingAndGlyphs" stroke="#000" stroke-width="0.8">Yang</text><text x="88.92" y="864.95" font-size="15.30" textLength="21.28" lengthAdjust="spacingAndGlyphs" stroke="#000" stroke-width="0.8">SH</text><text x="113.24" y="864.95" font-size="15.30" textLength="33.31" lengthAdjust="spacingAndGlyphs" stroke="#000" stroke-width="0.8">2013</text><text x="54.35" y="896.70" font-size="15.30" textLength="41.96" lengthAdjust="spacingAndGlyphs" stroke="#000" stroke-width="0.8">Zheng</text><text x="99.11" y="896.70" font-size="15.30" textLength="8.78" lengthAdjust="spacingAndGlyphs" stroke="#000" stroke-width="0.8">L</text><text x="111.79" y="896.70" font-size="15.30" textLength="33.94" lengthAdjust="spacingAndGlyphs" stroke="#000" stroke-width="0.8">2016</text><text x="60.56" y="928.45" font-size="15.30" textLength="35.06" lengthAdjust="spacingAndGlyphs" stroke="#000" stroke-width="0.8">Zhou</text><text x="97.85" y="928.45" font-size="15.30" textLength="12.42" lengthAdjust="spacingAndGlyphs" stroke="#000" stroke-width="0.8">R</text><text x="113.24" y="928.45" font-size="15.30" textLength="33.26" lengthAdjust="spacingAndGlyphs" stroke="#000" stroke-width="0.8">2018</text><text x="146.52" y="958.60" font-size="16.10" font-weight="bold" textLength="28.32" lengthAdjust="spacingAndGlyphs" stroke="#000" stroke-width="0.4">1.18</text><text x="192.93" y="958.60" font-size="16.10" font-weight="bold" textLength="29.35" lengthAdjust="spacingAndGlyphs" stroke="#000" stroke-width="0.4">1.24</text><text x="399.01" y="958.60" font-size="16.10" font-weight="bold" textLength="29.02" lengthAdjust="spacingAndGlyphs" stroke="#000" stroke-width="0.4">1.53</text><text x="604.02" y="958.60" font-size="16.10" font-weight="bold" textLength="27.70" lengthAdjust="spacingAndGlyphs" stroke="#000" stroke-width="0.4">1.81</text><text x="661.78" y="958.60" font-size="16.10" font-weight="bold" textLength="28.57" lengthAdjust="spacingAndGlyphs" stroke="#000" stroke-width="0.4">1.89</text></g></g></svg></body></html>
